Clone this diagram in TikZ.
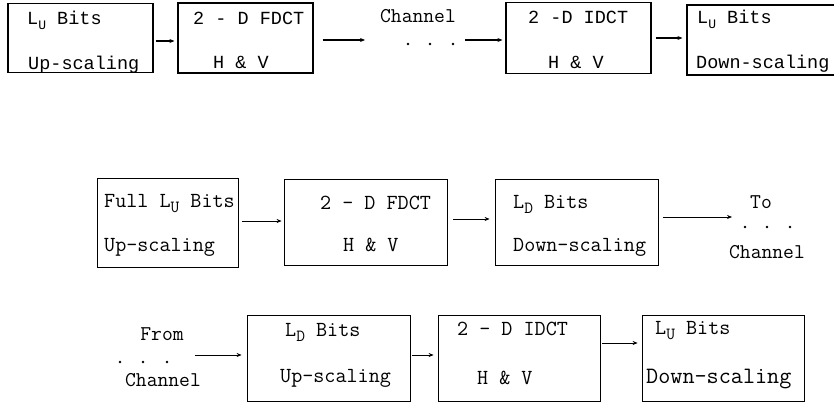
\documentclass[tikz,border=0pt]{standalone}
\usepackage{fontspec}
\newfontfamily\rowonefont{Liberation Mono}
\newfontfamily\twfont{Latin Modern Mono}
\usetikzlibrary{arrows.meta}
\newcommand\subA[1]{\raisebox{-0.5ex}{\fontsize{13}{13}\selectfont #1}}
\newcommand\subB[1]{\raisebox{-0.55ex}{\fontsize{17}{17}\selectfont #1}}
\begin{document}
\begin{tikzpicture}[x=1pt,y=-1pt,
  boxA/.style n args={2}{draw, line width=1.2pt, inner sep=0pt, minimum width=#1pt, minimum height=#2pt},
  boxB/.style n args={2}{draw, line width=0.8pt, inner sep=0pt, minimum width=#1pt, minimum height=#2pt},
  labA/.style={anchor=base west, inner sep=0pt, font=\rowonefont\fontsize{18.5}{20}\selectfont},
  labB/.style={anchor=base west, inner sep=0pt, font=\twfont\fontsize{21.5}{22}\selectfont},
  labC/.style={anchor=base, inner sep=0pt, font=\twfont\fontsize{21}{22}\selectfont},
  arrA/.style={-{Stealth[length=5pt,width=4pt]}, line width=1.1pt},
  arrB/.style={-{Stealth[length=5pt,width=4pt]}, line width=0.7pt},
  dot/.style={circle, fill, inner sep=0pt, minimum size=2.6pt}]
\useasboundingbox (0,0) rectangle (834,406);
\fill[white] (0,0) rectangle (834,406);
\clip (0,0) rectangle (834,406);

% ---- Row 1 ----
\node[boxA={145}{69}] (b1) at (80.5,38) {};
\node[boxA={135}{70}] (b2) at (245.5,38) {};
\node[boxA={145}{71}] (b3) at (578.5,38) {};
\node[boxA={160}{70}] (b4) at (767,40) {};

\node[labA] (t1a) at (27,24.5) {L\subA{U} Bits};
\node[labA] (t1b) at (28,69.5) {Up-scaling};
\node[labA] (t2a) at (193,24.5) {2 - D FDCT};
\node[labA] (t2b) at (213,68.5) {H \& V};
\node[labA] (t3a) at (528,23.5) {2 -D IDCT};
\node[labA] (t3b) at (548,68.5) {H \& V};
\node[labA] (t4a) at (697,23.5) {L\subA{U} Bits};
\node[labA] (t4b) at (696,68.5) {Down-scaling};

\node[labC] (ch1) at (418,23) {Channel};
\node[dot] (d1a) at (408,44) {};
\node[dot] (d1b) at (430,44) {};
\node[dot] (d1c) at (453,44) {};
\coordinate (c1in) at (365,40);
\coordinate (c1out) at (465,40);

\draw[arrA] ([shift={(2,3)}]b1.east) -- ([shift={(-3,3)}]b2.west);
\draw[arrA] ([shift={(9,2)}]b2.east) -- (c1in);
\draw[arrA] (c1out) -- ([shift={(-3,2)}]b3.west);
\draw[arrA] ([shift={(4,0)}]b3.east) -- ([shift={(-4,-2)}]b4.west);

% ---- Row 2 ----
\node[boxB={141}{89}] (bA) at (167.5,222.5) {};
\node[boxB={163}{86}] (bB) at (365.5,222.5) {};
\node[boxB={163}{86}] (bC) at (576.5,222.5) {};

\node[labB] (tAa) at (104,207.5) {Full L\subB{U} Bits};
\node[labB] (tAb) at (104,251.5) {Up-scaling};
\node[labB] (tBa) at (320,209.5) {2 - D FDCT};
\node[labB] (tBb) at (343,251.5) {H \& V};
\node[labB] (tCa) at (513,208.5) {L\subB{D} Bits};
\node[labB] (tCb) at (513,251.5) {Down-scaling};

\node[labC] (to) at (761,208) {To};
\node[dot] (d2a) at (745,227) {};
\node[dot] (d2b) at (767,227) {};
\node[dot] (d2c) at (790,227) {};
\node[labC] (ch2) at (767,258) {Channel};
\coordinate (c2in) at (732,217);

\draw[arrB] ([shift={(4,-1.5)}]bA.east) -- ([shift={(-2,-1.5)}]bB.west);
\draw[arrB] ([shift={(6,-3.5)}]bB.east) -- ([shift={(-5,-3.5)}]bC.west);
\draw[arrB] ([shift={(5,-5.5)}]bC.east) -- (c2in);

% ---- Row 3 ----
\node[boxB={163}{86}] (bD) at (328.5,358) {};
\node[boxB={162}{86}] (bE) at (519,358) {};
\node[boxB={162}{86}] (bF) at (723,358) {};

\node[labB] (tDa) at (285,336.5) {L\subB{D} Bits};
\node[labB] (tDb) at (280,382.5) {Up-scaling};
\node[labB] (tEa) at (457,335) {2 - D IDCT};
\node[labB] (tEb) at (477,384) {H \& V};
\node[labB] (tFa) at (655,334) {L\subB{U} Bits};
\node[labB, font=\twfont\fontsize{23.5}{24}\selectfont] (tFb) at (646,383) {Down-scaling};

\node[labC] (from) at (162,340.5) {From};
\node[dot] (d3a) at (120,362) {};
\node[dot] (d3b) at (143,362) {};
\node[dot] (d3c) at (167,362) {};
\node[labC] (ch3) at (163,386.5) {Channel};
\coordinate (c3out) at (195,355);

\draw[arrB] (c3out) -- ([shift={(-5,-3)}]bD.west);
\draw[arrB] ([shift={(2,-3)}]bD.east) -- ([shift={(-4,-3)}]bE.west);
\draw[arrB] ([shift={(2,-15)}]bE.east) -- ([shift={(-4,-15)}]bF.west);
\end{tikzpicture}
\end{document}
